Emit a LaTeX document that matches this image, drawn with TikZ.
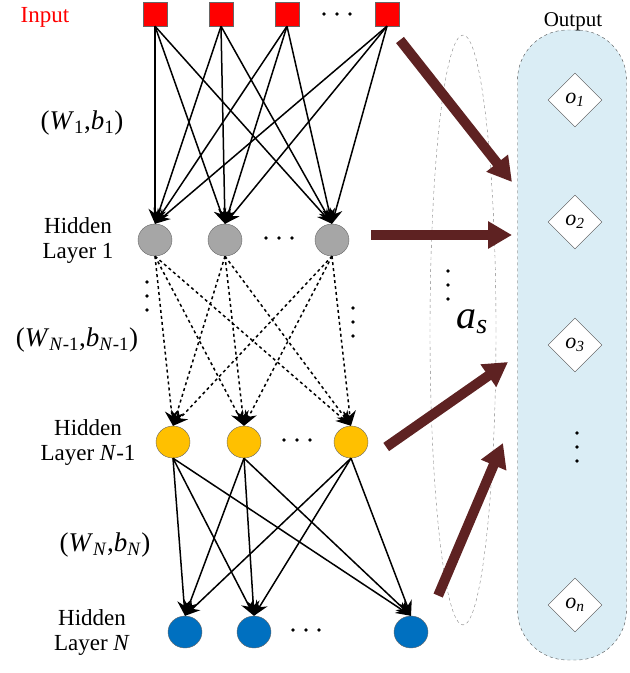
\documentclass[tikz,border=0pt]{standalone}
\usepackage{fontspec}
\setmainfont{Liberation Serif}
\usetikzlibrary{arrows.meta,shapes.geometric}
\definecolor{brn}{HTML}{5E2222}
\definecolor{outbg}{HTML}{DAEDF5}
\newcommand{\sbs}[1]{\textsubscript{#1}}
\newcommand{\myhdots}[1]{\foreach \k in {-1,0,1}{\fill (#1) ++(\k*13,0) circle (1.8pt);}}
\newcommand{\myvdots}[1]{\foreach \k in {-1,0,1}{\fill (#1) ++(0,\k*14) circle (1.8pt);}}
\begin{document}
\begin{tikzpicture}[x=1pt,y=-1pt,
  inp/.style={rectangle,draw=black!60,fill=red,minimum size=24pt,inner sep=0},
  hid/.style={ellipse,draw=black!60,minimum width=34pt,minimum height=32pt,inner sep=0},
  con/.style={-{Stealth[length=15pt,width=13pt]},line width=1.5pt},
  dcon/.style={con,dashed},
  big/.style={-{Triangle[length=24pt,width=26pt]},line width=10pt,draw=brn},
  lbl/.style={font=\fontsize{23}{25}\selectfont,align=center},
  dia/.style={diamond,draw=black!70,fill=white,minimum size=54pt,inner sep=0,font=\fontsize{22}{22}\selectfont\itshape}]
\useasboundingbox (0,0) rectangle (630,673);
% output panel
\node[rounded corners=50pt,draw=black!70,dashed,fill=outbg,minimum width=109pt,minimum height=630pt,inner sep=0] (panel) at (572,345) {};
\node[lbl,font=\fontsize{21}{22}\selectfont] (outt) at (573,22) {Output};
\node[dia] (o1) at (575,100) {o\sbs{1}};
\node[dia] (o2) at (575,222) {o\sbs{2}};
\node[dia] (o3) at (575,345) {o\sbs{3}};
\node[dia] (on) at (575,605) {o\sbs{n}};
\coordinate (od) at (577,447);
\myvdots{od}
% ellipse
\node[ellipse,draw=black!50,dashed,minimum width=66pt,minimum height=590pt,inner sep=0] (el) at (463,330) {};
\coordinate (ed) at (448,285);
\myvdots{ed}
\node[font=\fontsize{40}{40}\selectfont\itshape] (as) at (472,322) {a\sbs{s}};
% nodes
\node[inp] (i1) at (155,14) {};
\node[inp] (i2) at (221,14) {};
\node[inp] (i3) at (287,14) {};
\node[inp] (i4) at (387,14) {};
\coordinate (idots) at (337,14); \myhdots{idots}
\node[hid,fill=black!35] (g1) at (155,240) {};
\node[hid,fill=black!35] (g2) at (225,240) {};
\node[hid,fill=black!35] (g3) at (332,240) {};
\coordinate (gdots) at (279,238); \myhdots{gdots}
\node[hid,fill={rgb,255:red,255;green,192;blue,0}] (y1) at (173,442) {};
\node[hid,fill={rgb,255:red,255;green,192;blue,0}] (y2) at (244,442) {};
\node[hid,fill={rgb,255:red,255;green,192;blue,0}] (y3) at (351,442) {};
\coordinate (ydots) at (297,440); \myhdots{ydots}
\node[hid,fill={rgb,255:red,0;green,112;blue,192}] (b1) at (185,632) {};
\node[hid,fill={rgb,255:red,0;green,112;blue,192}] (b2) at (254,632) {};
\node[hid,fill={rgb,255:red,0;green,112;blue,192}] (b3) at (411,632) {};
\coordinate (bdots) at (306,630); \myhdots{bdots}
\coordinate (vd1) at (147,296); \myvdots{vd1}
\coordinate (vd2) at (353,322); \myvdots{vd2}
% labels
\node[lbl,text=red] (tin) at (45,17) {Input};
\node[lbl,font=\fontsize{27}{28}\selectfont] (tw1) at (82,123) {(\textit{W}\sbs{1},\textit{b}\sbs{1})};
\node[lbl] (th1) at (78,240) {Hidden\\Layer 1};
\node[lbl,font=\fontsize{27}{28}\selectfont] (tw2) at (77,340) {(\textit{W}\sbs{\textit{N}-1},\textit{b}\sbs{\textit{N}-1})};
\node[lbl] (th2) at (88,442) {Hidden\\Layer \textit{N}-1};
\node[lbl,font=\fontsize{27}{28}\selectfont] (tw3) at (105,545) {(\textit{W}\sbs{\textit{N}},\textit{b}\sbs{\textit{N}})};
\node[lbl] (th3) at (92,632) {Hidden\\Layer \textit{N}};
% connections
\foreach \a in {i1,i2,i3,i4}{\foreach \b in {g1,g2,g3}{\draw[con] (\a.south) -- (\b.north);}}
\foreach \a in {g1,g2,g3}{\foreach \b in {y1,y2,y3}{\draw[dcon] (\a.south) -- (\b.north);}}
\foreach \a in {y1,y2,y3}{\foreach \b in {b1,b2,b3}{\draw[con] (\a.south) -- (\b.north);}}
% big arrows
\coordinate (e1) at (512,182);
\coordinate (e2) at (512,235);
\coordinate (e3) at (508,362);
\coordinate (e4) at (503,443);
\draw[big] (400,40) -- (e1);
\draw[big] (g3.east) ++(22,-5) -- (e2);
\draw[big] (y3.east) ++(18,5) -- (e3);
\draw[big] (b3.north east) ++(15,-25) -- (e4);
\end{tikzpicture}
\end{document}
